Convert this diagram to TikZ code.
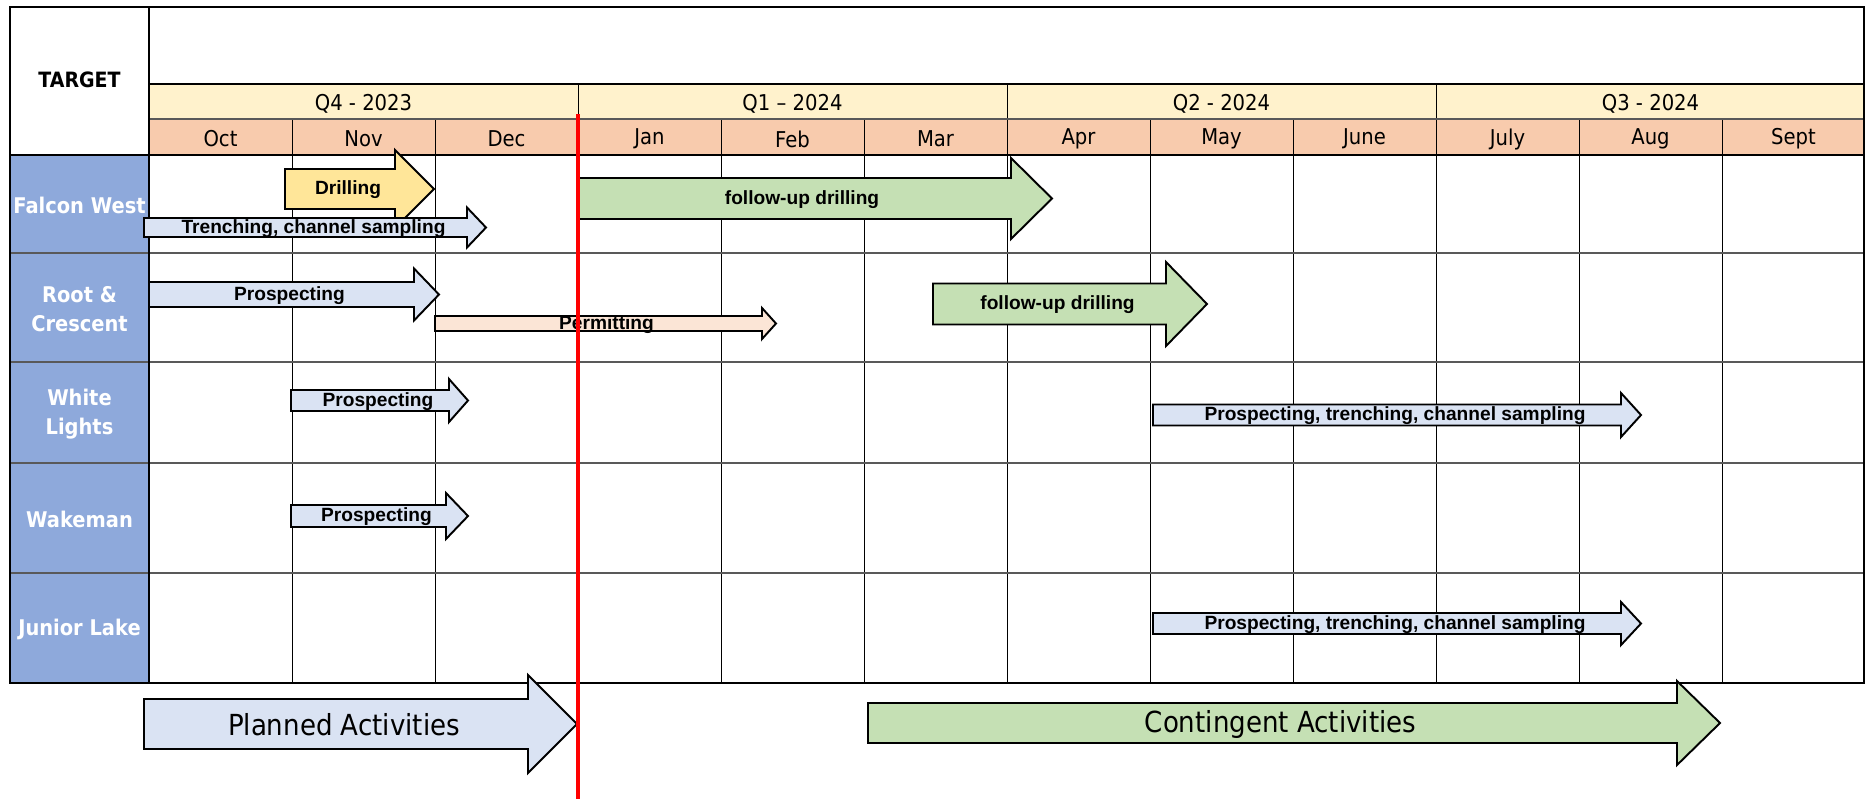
\documentclass[tikz,border=0pt]{standalone}
\usepackage{fontspec}
\newfontfamily\hdrfont{DejaVu Sans}[FakeStretch=0.9]
\newfontfamily\barfont{Liberation Sans}
\definecolor{quarterfill}{HTML}{FFF2CC}
\definecolor{monthfill}{HTML}{F8CBAD}
\definecolor{targetblue}{HTML}{8EA9DB}
\definecolor{planblue}{HTML}{DAE3F3}
\definecolor{drillyellow}{HTML}{FFE699}
\definecolor{contgreen}{HTML}{C5E0B4}
\definecolor{permitpeach}{HTML}{FBE5D6}
\definecolor{gridgray}{HTML}{595959}
\usetikzlibrary{positioning,calc}

% block arrow: fill, start x, head x, tip x, centre y, half body, half head, name, label
\newcommand{\ganttbar}[9]{%
  \draw[barline,fill=#1] (#2,{#5-#6}) -- (#3,{#5-#6}) -- (#3,{#5-#7}) -- (#4,#5)
    -- (#3,{#5+#7}) -- (#3,{#5+#6}) -- (#2,{#5+#6}) -- cycle;
  \node[barlabel] (#8) at ({(#2+#3)/2+8},{#5+1}) {#9};
}
\newcommand{\keytext}[1]{\hdrfont\mdseries\fontsize{16.5}{20}\selectfont #1}

\begin{document}
\begin{tikzpicture}[x=0.02cm,y=-0.02cm,
    barline/.style={draw=black,line width=1.1pt,line join=miter},
    barlabel/.style={font=\barfont\bfseries\fontsize{10.9}{12}\selectfont,inner sep=0pt},
    hdr/.style={font=\hdrfont\fontsize{12.4}{14}\selectfont,inner sep=0pt},
    rowlabel/.style={font=\hdrfont\bfseries\fontsize{12.3}{16.2}\selectfont,text=white,align=center,inner sep=0pt},
    gridline/.style={draw=black,line width=0.5pt},
    rowline/.style={draw=gridgray,line width=1.2pt}]
  \useasboundingbox (0,0) rectangle (1868,799);

  % Header and target column fills
  \fill[quarterfill] (149,84) rectangle (1864,119);
  \fill[monthfill] (149,119) rectangle (1864,155);
  \fill[targetblue] (10,155) rectangle (149,683);

  % Grid
  \foreach \k in {1,...,11}
    \draw[gridline] ({149+143*\k},119) -- ({149+143*\k},683);
  \foreach \x in {578,1007,1436}
    \draw[gridline] (\x,84) -- (\x,119);
  \foreach \y in {119,253,362,463,573}
    \draw[rowline] (149,\y) -- (1864,\y);
  \foreach \y in {253,362,463,573}
    \draw[rowline] (10,\y) -- (149,\y);
  \draw[line width=1.2pt] (149,84) -- (1864,84);
  \draw[line width=1.2pt] (10,155) -- (1864,155);
  \draw[line width=1.2pt] (149,7) -- (149,683);
  \draw[line width=1.2pt] (10,7) rectangle (1864,683);

  % Quarters and months
  \node[font=\hdrfont\bfseries\fontsize{12}{14}\selectfont] (target) at (79.5,80) {TARGET};
  \foreach \q [count=\i from 0] in {Q4 - 2023,Q1 \textendash{} 2024,Q2 - 2024,Q3 - 2024}
    \node[hdr] (q\i) at ({363.5+429*\i},104) {\q};
  \foreach \m [count=\i from 0] in {Oct,Nov,Dec,Jan,Feb,Mar,Apr,May,June,July,Aug,Sept}
    \node[hdr] (m\i) at ({220.5+143*\i},139) {\m};

  % Targets
  \node[rowlabel] (falcon) at (79.5,205) {Falcon West};
  \node[rowlabel] (root) at (79.5,309) {Root \&\\Crescent};
  \node[rowlabel] (white) at (79.5,414) {White\\Lights};
  \node[rowlabel] (wakeman) at (79.5,519) {Wakeman};
  \node[rowlabel] (junior) at (79.5,629) {Junior Lake};

  % Activities
  \ganttbar{drillyellow}{285}{395}{434}{189}{20}{39}{fwdrill}{Drilling}
  \ganttbar{planblue}{144}{467}{486}{227.5}{9.5}{20}{fwtrench}{Trenching, channel sampling}
  \ganttbar{contgreen}{577}{1011}{1052}{198.5}{20.5}{40.5}{fwfollow}{follow-up drilling}
  \ganttbar{planblue}{149}{414}{439}{294.5}{12.5}{26}{rcprosp}{Prospecting}
  \ganttbar{permitpeach}{435}{762}{776}{323.5}{7.5}{15.5}{rcpermit}{Permitting}
  \ganttbar{contgreen}{933}{1166}{1207}{304}{20.5}{42}{rcfollow}{follow-up drilling}
  \ganttbar{planblue}{291}{449}{468}{400.5}{10.5}{21.5}{wlprosp}{Prospecting}
  \ganttbar{planblue}{1153}{1621}{1641}{415}{10.5}{22}{wltrench}{Prospecting, trenching, channel sampling}
  \ganttbar{planblue}{291}{446}{468}{516}{11}{23}{wkprosp}{Prospecting}
  \ganttbar{planblue}{1153}{1621}{1641}{623.5}{10.5}{21.5}{jltrench}{Prospecting, trenching, channel sampling}

  % Key
  \ganttbar{planblue}{144}{528}{577}{724}{25}{49}{planned}{\keytext{Planned Activities}}
  \ganttbar{contgreen}{868}{1677}{1720}{723}{20}{42}{contingent}{\keytext{Contingent Activities}}

  % Today
  \draw[red,line width=2.8pt] (578,114) -- (578,799);
\end{tikzpicture}
\end{document}
